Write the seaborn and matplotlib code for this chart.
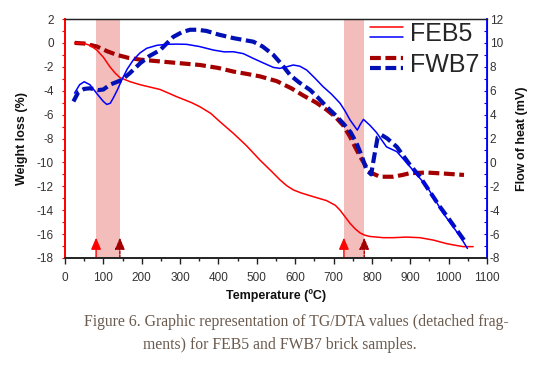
import numpy as np
import pandas as pd
import matplotlib
matplotlib.use("Agg")
import matplotlib.pyplot as plt
import seaborn as sns
from matplotlib.legend_handler import HandlerBase
from matplotlib.lines import Line2D
from matplotlib.ticker import MultipleLocator

# ---------------- data ----------------
feb5_tg_t = [25, 50, 65, 83, 100, 117, 130, 143, 170, 196, 248, 291, 330, 352, 380, 404, 440, 473, 508, 540, 560, 578, 595, 615, 640, 682, 705, 717, 730, 743, 756, 769, 782, 795, 830, 855, 890, 925, 960, 995, 1020, 1038, 1064]
feb5_tg_v = [0, -0.05, -0.2, -0.6, -1.2, -2.0, -2.5, -2.9, -3.25, -3.5, -3.9, -4.5, -5.0, -5.35, -5.9, -6.6, -7.6, -8.6, -9.8, -10.8, -11.45, -11.95, -12.3, -12.55, -12.8, -13.2, -13.6, -14.0, -14.55, -15.1, -15.55, -15.9, -16.1, -16.2, -16.3, -16.3, -16.25, -16.3, -16.5, -16.8, -16.95, -17.05, -17.05]

fwb7_tg_t = [25, 50, 83, 110, 135, 165, 196, 265, 352, 400, 439, 475, 508, 552, 590, 621, 655, 682, 705, 725, 743, 756, 769, 786, 800, 821, 855, 880, 899, 943, 995, 1040]
fwb7_tg_v = [0, -0.05, -0.3, -0.7, -1.0, -1.25, -1.4, -1.6, -1.85, -2.1, -2.4, -2.6, -2.8, -3.2, -3.8, -4.4, -5.0, -5.6, -6.2, -6.9, -7.85, -8.7, -9.5, -10.4, -10.9, -11.2, -11.2, -11.05, -10.9, -10.85, -10.95, -11.05]

feb5_dta_t = [25, 38, 50, 65, 87, 100, 109, 118, 126, 137, 148, 162, 178, 195, 213, 240, 265, 290, 317, 350, 387, 415, 439, 465, 491, 515, 543, 560, 578, 595, 612, 630, 650, 673, 695, 717, 730, 743, 762, 770, 778, 795, 812, 838, 865, 899, 943, 986, 1030, 1049]
feb5_dta_v = [5.8, 6.5, 6.75, 6.5, 5.6, 5.1, 4.85, 4.95, 5.4, 6.1, 6.9, 7.8, 8.57, 9.15, 9.55, 9.8, 9.88, 9.9, 9.88, 9.7, 9.4, 9.25, 9.26, 9.1, 8.7, 8.35, 7.95, 7.87, 8.0, 8.15, 8.05, 7.73, 7.1, 6.33, 5.7, 4.95, 4.3, 3.55, 2.7, 3.2, 3.6, 3.1, 2.5, 1.3, 0.9, -0.35, -2.0, -4.26, -6.2, -7.2]

fwb7_dta_t = [22, 35, 50, 65, 87, 100, 117, 148, 170, 196, 220, 248, 282, 305, 326, 345, 369, 400, 439, 465, 491, 515, 543, 565, 587, 610, 639, 660, 682, 705, 725, 745, 760, 774, 786, 798, 806, 815, 825, 840, 865, 899, 925, 950, 977, 1000, 1021, 1040]
fwb7_dta_v = [5.1, 5.9, 6.15, 6.2, 6.05, 6.1, 6.5, 6.9, 7.5, 8.3, 8.9, 9.4, 10.5, 10.9, 11.1, 11.1, 11.0, 10.7, 10.4, 10.25, 10.1, 9.7, 9.0, 8.2, 7.3, 6.7, 6.06, 5.4, 4.66, 3.95, 3.27, 2.5, 1.6, 0.5, -0.64, -1.0, 0.5, 2.1, 2.3, 2.0, 1.3, -0.2, -1.2, -2.4, -3.7, -4.7, -5.65, -6.5]

bands = [(81, 143), (727, 780)]
arrow_t = [81, 143, 727, 780]
arrow_kind = ["FEB5", "FWB7", "FEB5", "FWB7"]

x_ticks = list(range(0, 1101, 100))
left_ticks = list(range(-18, 3, 2))
right_ticks = list(range(-8, 13, 2))

series_names = ["FEB5", "FWB7"]
caption_lines = ["Figure 6. Graphic representation of TG/DTA values (detached frag-",
                 "ments) for FEB5 and FWB7 brick samples."]

# ---------------- style ----------------
sns.set_style("white")
plt.rcParams["font.family"] = ["Liberation Sans", "DejaVu Sans"]
plt.rcParams["axes.unicode_minus"] = False

RED = "#ff0000"
DRED = "#a50000"
BLUE = "#0000ff"
DBLUE = "#0010b4"

fig = plt.figure(figsize=(5.43, 3.76), dpi=100)
ax = fig.add_axes([65 / 543, 1 - 258 / 376, (487 - 65) / 543, (258 - 19) / 376])
ax2 = ax.twinx()

for a, b in bands:
    ax.axvspan(a, b, color="#f3bdbb", lw=0, zorder=0)

dash = (2.6, 1.1)
sns.lineplot(x=fwb7_tg_t, y=fwb7_tg_v, ax=ax, color=DRED, lw=3.0, sort=False)
ax.lines[-1].set_dashes(dash)
sns.lineplot(x=feb5_tg_t, y=feb5_tg_v, ax=ax, color=RED, lw=1.1, sort=False)
sns.lineplot(x=fwb7_dta_t, y=fwb7_dta_v, ax=ax2, color=DBLUE, lw=3.0, sort=False)
ax2.lines[-1].set_dashes(dash)
sns.lineplot(x=feb5_dta_t, y=feb5_dta_v, ax=ax2, color=BLUE, lw=1.1, sort=False)

for t, k in zip(arrow_t, arrow_kind):
    c = RED if k == "FEB5" else DRED
    ax.annotate("", xy=(t, -16.3), xytext=(t, -18), xycoords="data",
                arrowprops=dict(arrowstyle="-|>,head_width=0.3,head_length=0.7",
                                color=c, lw=1.0,
                                linestyle="-" if k == "FEB5" else (0, (2, 1)),
                                shrinkA=0, shrinkB=0), zorder=5)

ax.set_xlim(0, 1100)
ax.set_ylim(-18, 2)
ax2.set_ylim(-8, 12)
ax.set_xticks(x_ticks)
ax.xaxis.set_minor_locator(MultipleLocator(50))
ax.set_yticks(left_ticks)
ax.yaxis.set_minor_locator(MultipleLocator(1))
ax2.set_yticks(right_ticks)
ax2.yaxis.set_minor_locator(MultipleLocator(1))

tick_col = "#333333"
ax.tick_params(axis="x", which="major", direction="out", length=4, width=1, colors="#222222",
               labelsize=8.5, labelcolor=tick_col, pad=6, bottom=True)
ax.tick_params(axis="x", which="minor", direction="out", length=2.5, width=1, colors="#222222", bottom=True)
ax.tick_params(axis="y", which="both", direction="out", length=2, width=0.8, colors=RED,
               labelsize=8.5, labelcolor=tick_col, pad=6, left=True)
ax2.tick_params(axis="y", which="both", direction="in", length=2.5, width=0.8, colors=BLUE,
                labelsize=8.5, labelcolor=tick_col, pad=2, right=True)

for s in ax.spines.values():
    s.set_visible(True)
for s in ax2.spines.values():
    s.set_visible(True)
ax.spines["left"].set_color(RED)
ax2.spines["left"].set_color(RED)
ax.spines["left"].set_linewidth(1.3)
ax2.spines["left"].set_linewidth(1.3)
ax2.spines["right"].set_color(BLUE)
ax.spines["right"].set_color(BLUE)
ax2.spines["right"].set_linewidth(1.3)
for a in (ax, ax2):
    a.spines["top"].set_color("#222222")
    a.spines["bottom"].set_color("#222222")
    a.spines["bottom"].set_linewidth(1.2)
    a.spines["top"].set_linewidth(0.9)

ax.set_xlabel("Temperature (ºC)", fontsize=9, fontweight="bold", labelpad=3.5, color="#111111")
ax.set_ylabel("Weight loss (%)", fontsize=9, fontweight="bold", labelpad=6, color="#111111")
ax2.set_ylabel("Flow of heat (mV)", fontsize=9, fontweight="bold", labelpad=9, color="#111111")


class StackHandler(HandlerBase):
    def create_artists(self, legend, orig_handle, xdescent, ydescent, width, height, fontsize, trans):
        arts = []
        ymid = -ydescent + height / 2
        for src, dy in zip(orig_handle, (4.0, -3.2)):
            ln = Line2D([-xdescent, -xdescent + width], [ymid + dy, ymid + dy])
            ln.update_from(src)
            ln.set_transform(trans)
            arts.append(ln)
        return arts


h_feb5 = (Line2D([], [], color=RED, lw=1.1), Line2D([], [], color=BLUE, lw=1.1))
d1 = Line2D([], [], color=DRED, lw=3.0); d1.set_dashes(dash)
d2 = Line2D([], [], color=DBLUE, lw=3.0); d2.set_dashes(dash)
h_fwb7 = (d1, d2)
ax2.legend([h_feb5, h_fwb7], series_names, handler_map={tuple: StackHandler()},
           loc="upper right", bbox_to_anchor=(0.982, 0.9875), frameon=False,
           fontsize=18, handlelength=1.3, handletextpad=0.3,
           labelspacing=0.3, borderpad=0.0, borderaxespad=0.0)

cap_col = "#6b5b4e"
fig.text(296 / 543, 1 - 322 / 376, caption_lines[0], ha="center", va="center",
         fontsize=11.3, color=cap_col, family=["Liberation Serif", "DejaVu Serif"])
fig.text(280 / 543, 1 - 345 / 376, caption_lines[1], ha="center", va="center",
         fontsize=11.3, color=cap_col, family=["Liberation Serif", "DejaVu Serif"])

fig.savefig("out.png", dpi=100)
